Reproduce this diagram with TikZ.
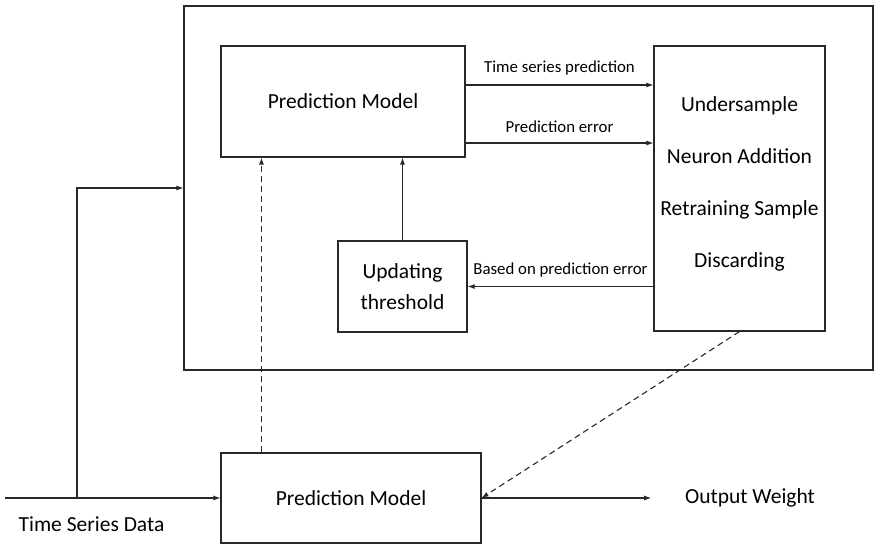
\documentclass[tikz,border=0pt]{standalone}
\usepackage{fontspec}
\setmainfont{Carlito}
\usetikzlibrary{positioning,arrows.meta,calc}
\definecolor{linegray}{RGB}{40,40,40}

\begin{document}
\begin{tikzpicture}[
    x=1pt, y=-1pt,
    line width=1.1pt, draw=linegray,
    >={Latex[length=7pt,width=5pt]},
    box/.style={rectangle, draw=linegray, line width=1.1pt, inner sep=0pt},
    bigtext/.style={font=\fontsize{21.5}{26}\selectfont},
    smalltext/.style={font=\fontsize{16.8}{19}\selectfont}
]
\useasboundingbox (0,0) rectangle (874,545);

% Outer frame
\node[box, minimum width=689pt, minimum height=364pt] (frame) at (528.5,188) {};

% Blocks inside the frame
\node[box, bigtext, minimum width=244pt, minimum height=111pt] (pmtop) at (343,101.5) {Prediction Model};
\node[box, bigtext, align=center, minimum width=171pt, minimum height=285pt,
      font=\fontsize{21.5}{52}\selectfont] (ops) at (739.5,188.5)
      {Undersample\\Neuron Addition\\Retraining Sample\\Discarding\\[-39pt]};
\node[box, bigtext, align=center, minimum width=129pt, minimum height=91pt,
      font=\fontsize{21.5}{31}\selectfont] (upd) at (402.5,286.5) {Updating\\threshold};

% Blocks outside the frame
\node[box, bigtext, minimum width=260pt, minimum height=90pt] (pmbot) at (351,498) {Prediction Model};
\node[bigtext] (tsd) at (91.5,524) {Time Series Data};
\node[bigtext] (ow) at (750,498) {Output Weight};
\coordinate (in) at (5,498);
\coordinate (split) at (77,498);

% Connectors
\draw[->] (in) -- (pmbot.west);
\draw[->] (split) |- (frame.west);
\draw[->] ([yshift=16.5pt]pmtop.east) -- node[above, smalltext, yshift=6pt] {Time series prediction}
    ([yshift=16.5pt]pmtop.east -| ops.west);
\draw[->] ([yshift=-41.5pt]pmtop.east) -- node[above, smalltext, yshift=6pt] {Prediction error}
    ([yshift=-41.5pt]pmtop.east -| ops.west);
\draw[->] (upd.east -| ops.west) -- node[above, smalltext, yshift=5pt] {Based on prediction error} (upd.east);
\draw[->] (upd.north) -- (upd.north |- pmtop.south);
\draw[->, dash pattern=on 6pt off 4pt] ([xshift=41pt]pmbot.north west) -- ([xshift=41pt]pmbot.north west |- pmtop.south);
\draw[->, dash pattern=on 6pt off 4pt] (ops.south) -- (pmbot.east);
\draw[->, shorten >=30pt] (pmbot.east) -- (ow.west);

\end{tikzpicture}
\end{document}
